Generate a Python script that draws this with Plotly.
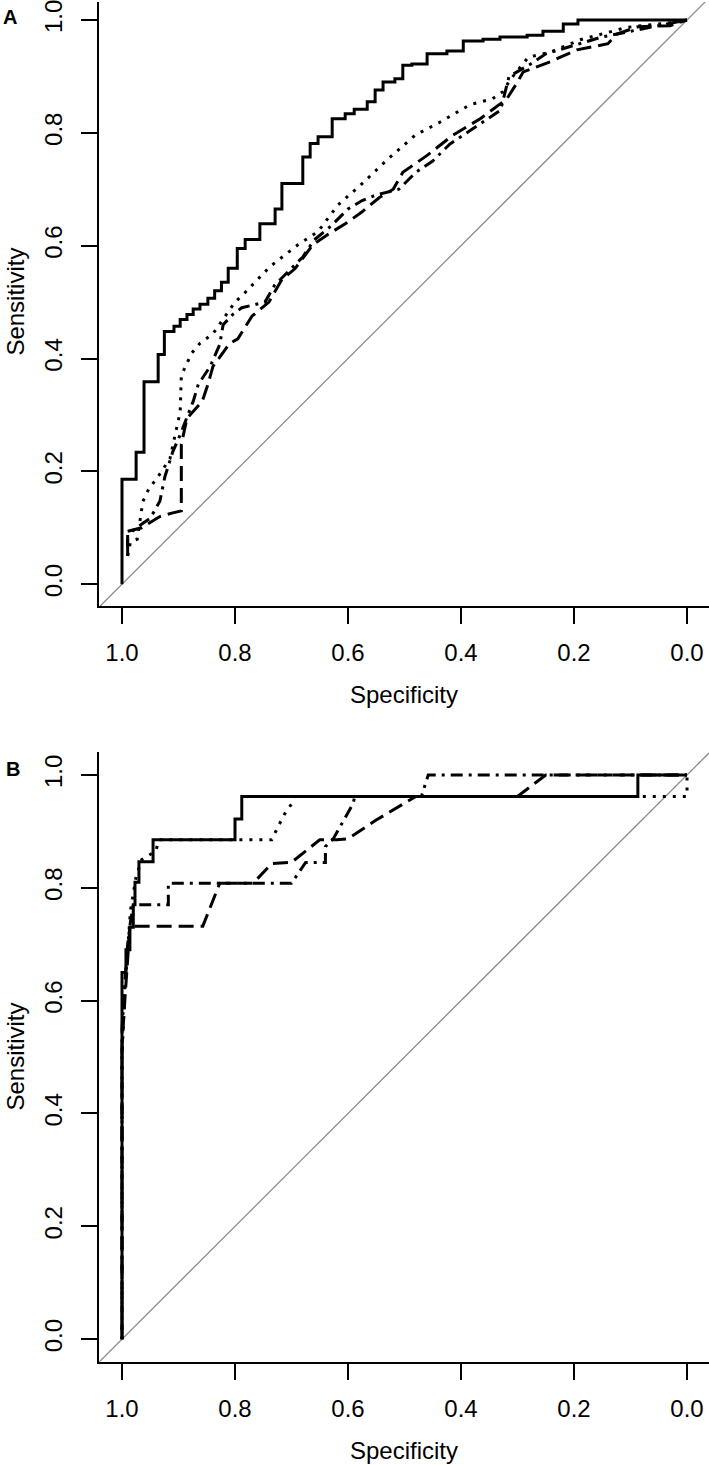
import plotly.graph_objects as go

# ---------------- data ----------------
tick_vals = [1.0, 0.8, 0.6, 0.4, 0.2, 0.0]
tick_text = ["1.0", "0.8", "0.6", "0.4", "0.2", "0.0"]
ytick_vals = [0.0, 0.2, 0.4, 0.6, 0.8, 1.0]
ytick_text = ["0.0", "0.2", "0.4", "0.6", "0.8", "1.0"]

# Panel A, solid curve: specificity at which each rise happens, and level after rise
solid_a_rise_spec = [1.000, 0.975, 0.961, 0.936, 0.925, 0.908, 0.897, 0.885, 0.874, 0.862,
                     0.848, 0.836, 0.824, 0.812, 0.796, 0.782, 0.756, 0.729, 0.717, 0.680,
                     0.667, 0.653, 0.628, 0.605, 0.589, 0.566, 0.552, 0.538, 0.517, 0.503,
                     0.487, 0.460, 0.425, 0.396, 0.361, 0.331, 0.283, 0.255, 0.219, 0.193]
solid_a_level = [0.186, 0.234, 0.359, 0.407, 0.448, 0.457, 0.469, 0.478, 0.488, 0.496,
                 0.507, 0.520, 0.535, 0.560, 0.595, 0.611, 0.639, 0.665, 0.710, 0.757,
                 0.781, 0.793, 0.825, 0.834, 0.842, 0.855, 0.876, 0.890, 0.896, 0.920,
                 0.922, 0.940, 0.945, 0.963, 0.966, 0.970, 0.973, 0.980, 0.993, 1.000]

dotted_a_spec = [0.99, 0.985, 0.973, 0.963, 0.952, 0.938, 0.915, 0.905, 0.897, 0.895, 0.877,
                 0.862, 0.839, 0.80, 0.786, 0.738, 0.688, 0.653, 0.618, 0.575, 0.531, 0.481,
                 0.437, 0.384, 0.345, 0.326, 0.313, 0.281, 0.242, 0.189, 0.159, 0.106, 0.051,
                 0.018, 0.0]
dotted_a_sens = [0.05, 0.075, 0.08, 0.147, 0.17, 0.188, 0.223, 0.27, 0.306, 0.37, 0.409,
                 0.427, 0.444, 0.50, 0.513, 0.563, 0.602, 0.625, 0.672, 0.71, 0.752, 0.796,
                 0.819, 0.85, 0.86, 0.873, 0.894, 0.934, 0.943, 0.965, 0.973, 0.987, 0.993,
                 0.996, 1.0]

dashed_a_spec = [0.99, 0.99, 0.965, 0.933, 0.912, 0.895, 0.895, 0.885, 0.858, 0.848, 0.839,
                 0.81, 0.795, 0.77, 0.74, 0.717, 0.694, 0.662, 0.637, 0.60, 0.575, 0.545,
                 0.52, 0.503, 0.46, 0.414, 0.366, 0.319, 0.30, 0.29, 0.242, 0.195, 0.14,
                 0.124, 0.087, 0.03, 0.0]
dashed_a_sens = [0.055, 0.094, 0.10, 0.12, 0.126, 0.13, 0.248, 0.294, 0.324, 0.354, 0.386,
                 0.426, 0.435, 0.475, 0.50, 0.54, 0.559, 0.602, 0.619, 0.642, 0.66, 0.685,
                 0.70, 0.73, 0.76, 0.796, 0.825, 0.86, 0.89, 0.908, 0.926, 0.947, 0.958,
                 0.975, 0.988, 0.99, 1.0]

dotdash_a_spec = [0.99, 0.99, 0.963, 0.95, 0.933, 0.924, 0.91, 0.897, 0.874, 0.865, 0.844,
                  0.827, 0.821, 0.804, 0.788, 0.747, 0.73, 0.70, 0.68, 0.66, 0.63, 0.60,
                  0.575, 0.55, 0.51, 0.48, 0.45, 0.42, 0.39, 0.36, 0.33, 0.32, 0.315, 0.28,
                  0.25, 0.20, 0.15, 0.10, 0.05, 0.0]
dotdash_a_sens = [0.05, 0.088, 0.108, 0.117, 0.147, 0.191, 0.235, 0.265, 0.324, 0.354, 0.386,
                  0.425, 0.46, 0.478, 0.49, 0.50, 0.53, 0.56, 0.58, 0.61, 0.635, 0.665,
                  0.68, 0.69, 0.70, 0.73, 0.75, 0.78, 0.80, 0.82, 0.84, 0.88, 0.90, 0.92,
                  0.94, 0.955, 0.97, 0.98, 0.99, 1.0]

# Panel B
solid_b_rise_spec = [1.0, 0.993, 0.986, 0.98, 0.977, 0.97, 0.945, 0.80, 0.788, 0.087]
solid_b_level = [0.65, 0.69, 0.73, 0.77, 0.81, 0.846, 0.885, 0.922, 0.962, 1.0]

dotted_b_spec = [1.0, 1.0, 0.995, 0.99, 0.985, 0.98, 0.975, 0.965, 0.94, 0.935, 0.735,
                 0.722, 0.712, 0.699, 0.695, 0.0, 0.0]
dotted_b_sens = [0.0, 0.5, 0.62, 0.70, 0.76, 0.79, 0.82, 0.85, 0.865, 0.885, 0.885,
                 0.912, 0.931, 0.95, 0.962, 0.962, 1.0]

dashed_b_spec = [1.0, 1.0, 0.995, 0.99, 0.986, 0.857, 0.827, 0.768, 0.735, 0.70, 0.65,
                 0.62, 0.60, 0.55, 0.49, 0.48, 0.30, 0.25, 0.0]
dashed_b_sens = [0.0, 0.52, 0.60, 0.68, 0.732, 0.732, 0.808, 0.808, 0.843, 0.845, 0.885,
                 0.885, 0.887, 0.92, 0.956, 0.962, 0.962, 1.0, 1.0]

dotdash_b_spec = [1.0, 1.0, 0.995, 0.99, 0.985, 0.98, 0.918, 0.918, 0.70, 0.675, 0.64,
                  0.64, 0.626, 0.591, 0.588, 0.47, 0.458, 0.0]
dotdash_b_sens = [0.0, 0.55, 0.63, 0.70, 0.74, 0.77, 0.77, 0.808, 0.808, 0.845, 0.845,
                  0.873, 0.887, 0.949, 0.962, 0.962, 1.0, 1.0]

# ---------------- layout constants ----------------
W, H = 709, 1465
FONT = "Liberation Sans, Arial, Helvetica, sans-serif"
X0 = 99 / W
XRANGE = [1.0407, -0.0389]
YRANGE_A = [-0.0389, 1.0319]
YRANGE_B = [-0.0400, 1.0400]
DOM_A = [(H - 605) / H, 1.0]
DOM_B = [(H - 1361.6) / H, (H - 751.4) / H]

DOT = "3px,7px"
DASH = "15px,7px"
DOTDASH = "3px,6px,12px,6px"
LW = 3

fig = go.Figure()


def add(x, y, dash, xa, ya, shape="linear", color="black", width=LW):
    fig.add_trace(go.Scatter(x=x, y=y, mode="lines", xaxis=xa, yaxis=ya,
                             line=dict(color=color, width=width, dash=dash, shape=shape),
                             hoverinfo="skip", showlegend=False))


for xa, ya in (("x", "y"), ("x2", "y2")):
    # chance diagonal sens = 1 - spec spanning the plot region
    add([XRANGE[0] + 0.01, XRANGE[1] - 0.01], [1 - XRANGE[0] - 0.01, 1 - XRANGE[1] + 0.01],
        "solid", xa, ya, color="#8c8c8c", width=1.3)

add(dotted_a_spec, dotted_a_sens, DOT, "x", "y")
add(dashed_a_spec, dashed_a_sens, DASH, "x", "y")
add(dotdash_a_spec, dotdash_a_sens, DOTDASH, "x", "y")
add(solid_a_rise_spec + [0.0], [0.0] + solid_a_level, "solid", "x", "y", shape="vh")

add(dotted_b_spec, dotted_b_sens, DOT, "x2", "y2")
add(dashed_b_spec, dashed_b_sens, DASH, "x2", "y2")
add(dotdash_b_spec, dotdash_b_sens, DOTDASH, "x2", "y2")
add(solid_b_rise_spec + [0.0], [0.0] + solid_b_level, "solid", "x2", "y2", shape="vh")

xcommon = dict(range=XRANGE, domain=[X0, 1.0], tickmode="array", tickvals=tick_vals,
               ticktext=tick_text, ticks="outside", ticklen=16, tickwidth=2, tickcolor="black",
               showline=True, linewidth=2, linecolor="black", showgrid=False, zeroline=False,
               tickfont=dict(family=FONT, size=24, color="black"), ticklabelstandoff=8,
               ticklabeloverflow="allow", fixedrange=True)
ycommon = dict(tickmode="array", tickvals=ytick_vals, ticktext=ytick_text, ticks="outside",
               ticklen=16, tickwidth=2, tickcolor="black", showline=True, linewidth=2,
               linecolor="black", showgrid=False, zeroline=False, tickangle=-90,
               tickfont=dict(family=FONT, size=24, color="black"), ticklabelstandoff=9,
               ticklabeloverflow="allow", fixedrange=True)

fig.update_layout(
    width=W, height=H, margin=dict(l=0, r=0, t=0, b=0),
    paper_bgcolor="white", plot_bgcolor="white", showlegend=False,
    xaxis=dict(anchor="y", **xcommon),
    yaxis=dict(anchor="x", range=YRANGE_A, domain=DOM_A, **ycommon),
    xaxis2=dict(anchor="y2", **xcommon),
    yaxis2=dict(anchor="x2", range=YRANGE_B, domain=DOM_B, **ycommon),
)

xc = (99 + W) / 2 / W
annots = [
    dict(text="<b>A</b>", x=10 / W, y=1 - 15 / H, font=dict(size=20)),
    dict(text="<b>B</b>", x=12.5 / W, y=1 - 768 / H, font=dict(size=20)),
    dict(text="Specificity", x=xc, y=1 - 693 / H, font=dict(size=24)),
    dict(text="Specificity", x=xc, y=1 - 1450 / H, font=dict(size=24)),
    dict(text="Sensitivity", x=16 / W, y=1 - 300 / H, font=dict(size=24), textangle=-90),
    dict(text="Sensitivity", x=16 / W, y=1 - 1056 / H, font=dict(size=24), textangle=-90),
]
for a in annots:
    a["font"].update(family=FONT, color="black")
    fig.add_annotation(xref="paper", yref="paper", showarrow=False,
                       xanchor="center", yanchor="middle", **a)

fig.write_html("out.html", config={"displayModeBar": False, "staticPlot": True},
               post_script="document.body.style.margin='0';document.body.style.overflow='hidden';")
